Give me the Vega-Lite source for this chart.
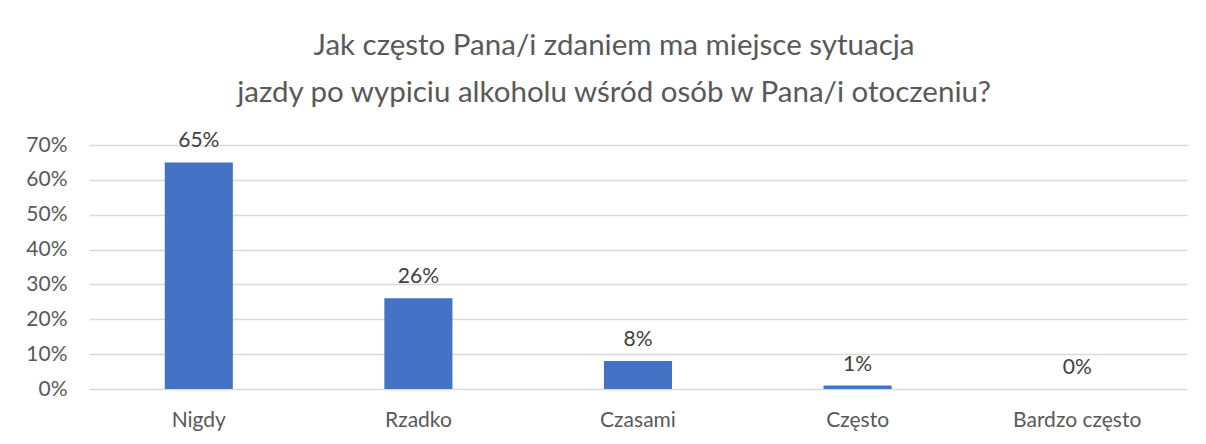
{
  "$schema": "https://vega.github.io/schema/vega-lite/v6.json",
  "autosize": "none",
  "width": 1098,
  "height": 244,
  "padding": {"left": 89, "top": 145, "right": 19, "bottom": 55},
  "background": "white",
  "title": {
    "text": ["Jak często Pana/i zdaniem ma miejsce sytuacja", "jazdy po wypiciu alkoholu wśród osób w Pana/i otoczeniu?"],
    "font": "Lato",
    "fontSize": 29.5,
    "fontWeight": "normal",
    "color": "#595959",
    "lineHeight": 47,
    "dx": -24,
    "offset": 22
  },
  "data": {
    "values": [
      {"kategoria": "Nigdy", "wartosc": 0.65},
      {"kategoria": "Rzadko", "wartosc": 0.26},
      {"kategoria": "Czasami", "wartosc": 0.08},
      {"kategoria": "Często", "wartosc": 0.01},
      {"kategoria": "Bardzo często", "wartosc": 0.0}
    ]
  },
  "encoding": {
    "x": {
      "field": "kategoria",
      "type": "nominal",
      "sort": null,
      "scale": {"paddingInner": 0.69, "paddingOuter": 0.345},
      "axis": {
        "title": null,
        "labelAngle": 0,
        "labelFont": "Lato",
        "labelFontSize": 21,
        "labelColor": "#595959",
        "labelPadding": 20,
        "ticks": false,
        "domain": false
      }
    },
    "y": {
      "field": "wartosc",
      "type": "quantitative",
      "scale": {"domain": [0, 0.7], "nice": false},
      "axis": {
        "title": null,
        "format": ".0%",
        "values": [0, 0.1, 0.2, 0.3, 0.4, 0.5, 0.6, 0.7],
        "labelFont": "Lato",
        "labelFontSize": 21,
        "labelColor": "#595959",
        "labelPadding": 22,
        "ticks": false,
        "domain": false,
        "grid": true,
        "gridColor": "#d9d9d9",
        "gridWidth": 1.5
      }
    }
  },
  "layer": [
    {"mark": {"type": "bar", "color": "#4472C4"}},
    {
      "mark": {"type": "text", "font": "Lato", "fontSize": 21, "color": "#404040", "baseline": "alphabetic", "dy": -15},
      "encoding": {"text": {"field": "wartosc", "type": "quantitative", "format": ".0%"}}
    }
  ],
  "config": {"view": {"stroke": null}}
}
